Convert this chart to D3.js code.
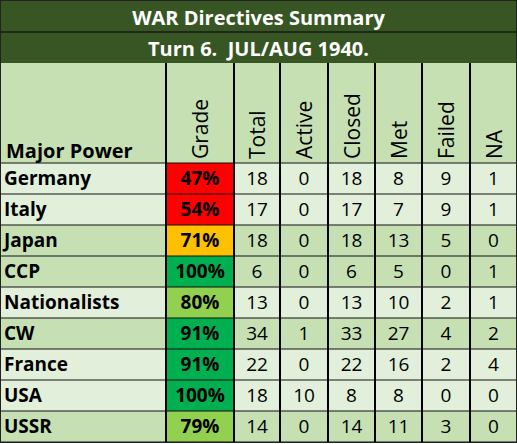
<!DOCTYPE html>
<meta charset="utf-8">
<style>
body { margin: 0; background: #fff; }
text { font-family: "Open Sans", "Noto Sans", sans-serif; white-space: pre; }
</style>
<body>
<script src="https://d3js.org/d3.v7.min.js"></script>
<script>

// table data
var powers = ["Germany", "Italy", "Japan", "CCP", "Nationalists", "CW", "France", "USA", "USSR"];
var grades = [47, 54, 71, 100, 80, 91, 91, 100, 79];
var columns = ["Total", "Active", "Closed", "Met", "Failed", "NA"];
var totalDirs  = [18, 17, 18, 6, 13, 34, 22, 18, 14];
var activeDirs = [0, 0, 0, 0, 0, 1, 0, 10, 0];
var closedDirs = [18, 17, 18, 6, 13, 33, 22, 8, 14];
var metDirs    = [8, 7, 13, 5, 10, 27, 16, 8, 11];
var failedDirs = [9, 9, 5, 0, 2, 4, 2, 0, 3];
var naDirs     = [1, 1, 0, 1, 1, 2, 4, 0, 0];
var shaded = [false, false, true, true, false, true, false, false, true];

var values = [totalDirs, activeDirs, closedDirs, metDirs, failedDirs, naDirs];

var width = 517, height = 444,
    dark = "#375623", light = "#e2efda", mid = "#c6e0b4";

var svg = d3.select("body").append("svg")
    .attr("width", width)
    .attr("height", height);

// column edges
var edges = [0, 166, 234, 280, 328, 375, 422, 470, 517];

var y = d3.scaleBand()
    .domain(d3.range(powers.length))
    .range([163, 442]);

function gradeColor(g) {
  if (g < 60) return "#ff0000";
  if (g < 75) return "#ffc000";
  if (g < 85) return "#92d050";
  return "#00b050";
}

// title bars
svg.append("rect").attr("width", width).attr("height", 63).attr("fill", dark);
svg.append("line").attr("x1", 0).attr("x2", width).attr("y1", 32).attr("y2", 32)
    .attr("stroke", "#1a1a1a").attr("stroke-width", 1.5);
svg.append("text").attr("x", width / 2).attr("y", 25).attr("text-anchor", "middle")
    .attr("fill", "#fff").style("font-weight", "bold").style("font-size", "20px")
    .text("WAR Directives Summary");
svg.append("text").attr("x", width / 2).attr("y", 56).attr("text-anchor", "middle")
    .attr("fill", "#fff").style("font-weight", "bold").style("font-size", "20px")
    .text("Turn 6.  JUL/AUG 1940.");

// header row
svg.append("rect").attr("y", 63).attr("width", width).attr("height", 100).attr("fill", mid);
svg.append("text").attr("x", 6).attr("y", 158)
    .style("font-weight", "bold").style("font-size", "20px").text("Major Power");

var headers = ["Grade"].concat(columns);
headers.forEach(function(h, i) {
  var cx = (edges[i + 1] + edges[i + 2]) / 2;
  svg.append("text")
      .attr("transform", "translate(" + (cx + 8) + ",159) rotate(-90)")
      .style("font-size", "21px")
      .text(h);
});

// body rows
var row = svg.selectAll(".row")
    .data(powers)
    .enter().append("g")
    .attr("class", "row")
    .attr("transform", function(d, i) { return "translate(0," + y(i) + ")"; });

row.append("rect")
    .attr("width", width)
    .attr("height", y.bandwidth())
    .attr("fill", function(d, i) { return shaded[i] ? mid : light; });

row.append("rect")
    .attr("x", edges[1]).attr("width", edges[2] - edges[1])
    .attr("height", y.bandwidth())
    .attr("fill", function(d, i) { return gradeColor(grades[i]); });

row.append("text")
    .attr("x", 4).attr("y", y.bandwidth() / 2).attr("dy", "0.36em")
    .style("font-weight", "bold").style("font-size", "19px")
    .text(function(d) { return d; });

row.append("text")
    .attr("x", (edges[1] + edges[2]) / 2).attr("y", y.bandwidth() / 2).attr("dy", "0.36em")
    .attr("text-anchor", "middle")
    .style("font-weight", "bold").style("font-size", "19px")
    .text(function(d, i) { return grades[i] + "%"; });

values.forEach(function(arr, c) {
  row.append("text")
      .attr("x", (edges[c + 2] + edges[c + 3]) / 2).attr("y", y.bandwidth() / 2).attr("dy", "0.36em")
      .attr("text-anchor", "middle")
      .style("font-size", "19px")
      .text(function(d, i) { return arr[i]; });
});

// grid lines
d3.range(powers.length + 1).forEach(function(i) {
  var yy = i < powers.length ? y(i) : 442;
  svg.append("line").attr("x1", 0).attr("x2", width).attr("y1", yy).attr("y2", yy)
      .attr("stroke", "#111").attr("stroke-width", 1);
});
edges.slice(1, -1).forEach(function(x, i) {
  svg.append("line").attr("x1", x).attr("x2", x)
      .attr("y1", 63).attr("y2", 442)
      .attr("stroke", "#000").attr("stroke-width", 2);
});
svg.append("rect").attr("x", 0.5).attr("y", 0.5).attr("width", width - 1).attr("height", 442)
    .attr("fill", "none").attr("stroke", "#222").attr("stroke-width", 1);

</script>
</body>
